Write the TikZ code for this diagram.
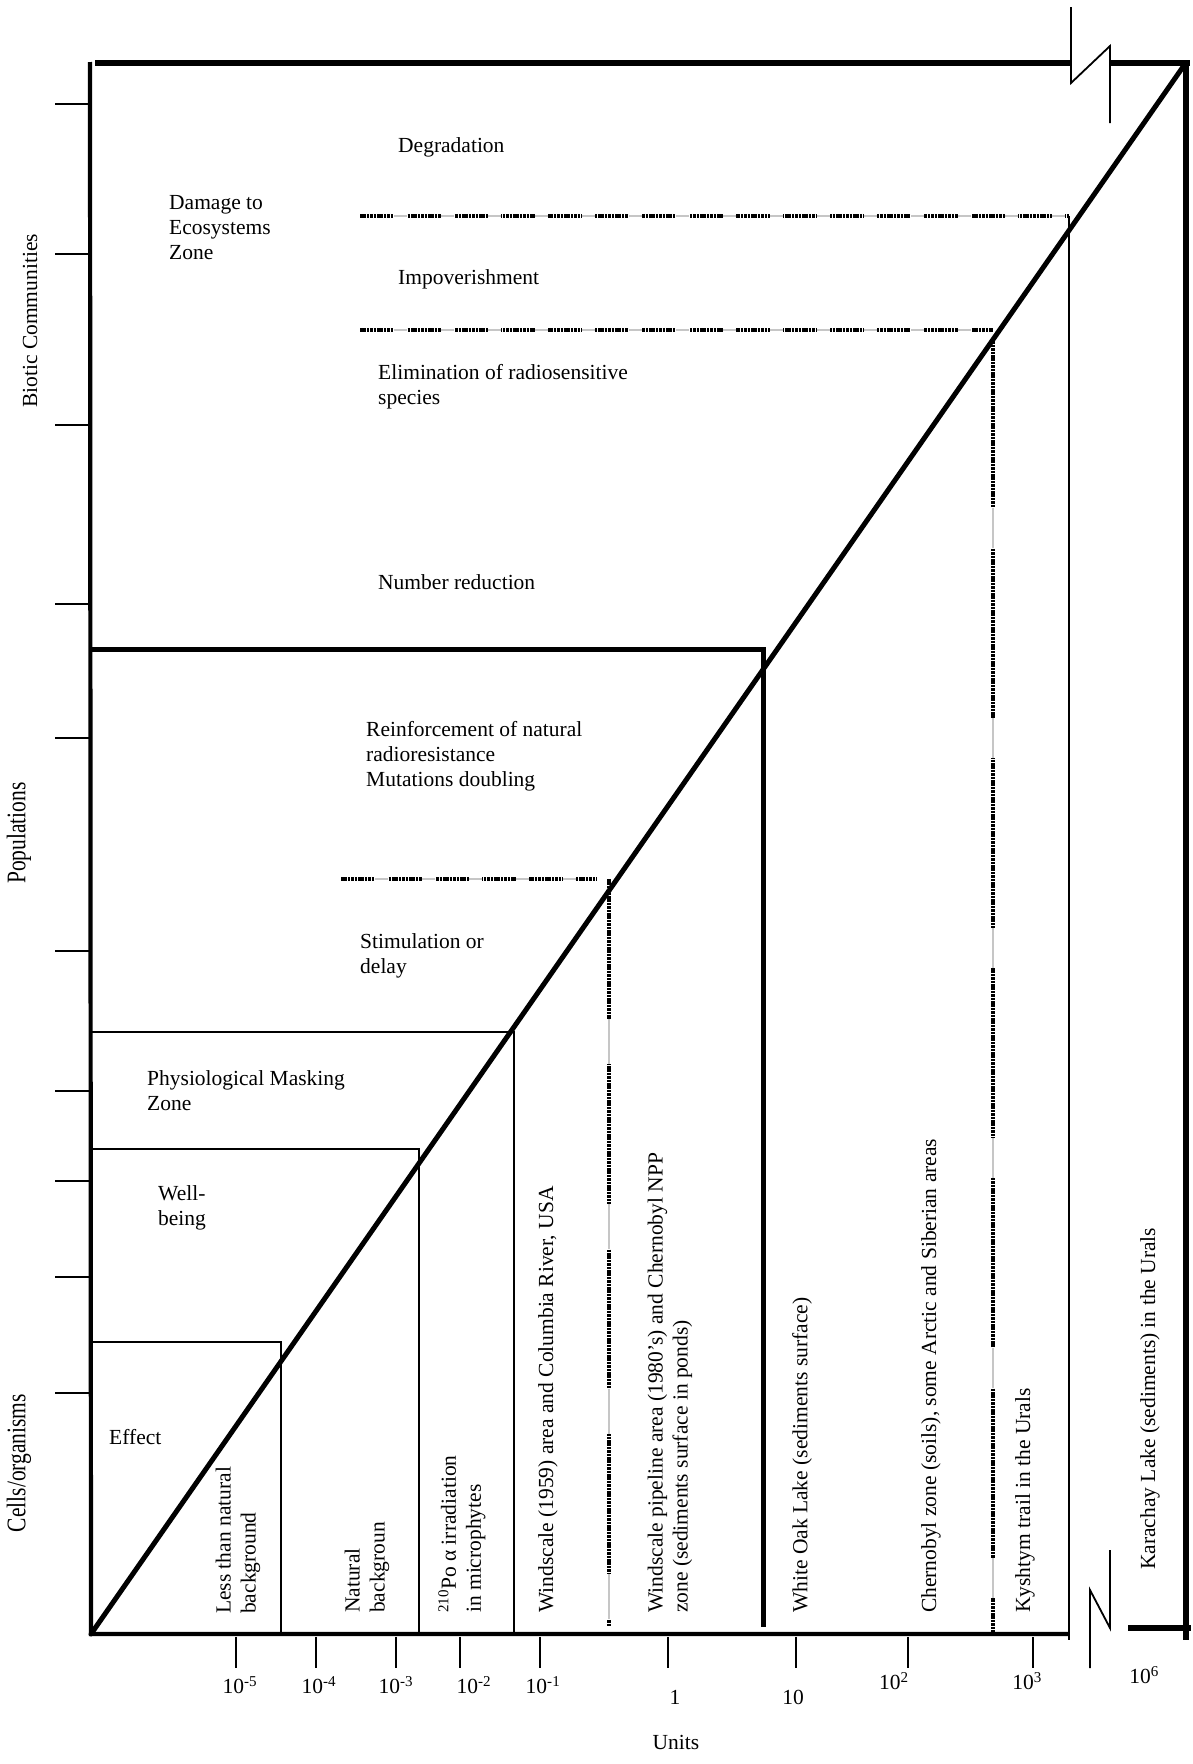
\documentclass[tikz,border=0pt]{standalone}
\usepackage{fontspec}
\setmainfont{Liberation Serif}
\begin{document}
\begin{tikzpicture}[x=1pt,y=-1pt,
  txt/.style={font=\fontsize{21.5}{25}\selectfont, inner sep=0pt, align=left},
  zone/.style={txt, anchor=west},
  vtxt/.style={txt, rotate=90, anchor=west},
  num/.style={txt, anchor=center},
  heavy/.style={line width=5.5, line cap=butt},
  axisline/.style={line width=4.2, line join=miter},
  popbox/.style={line width=5, line join=miter},
  diag/.style={line width=5, line cap=round},
  thinl/.style={line width=1.8},
  tickl/.style={line width=1.6},
  % fine black dots, interrupted at regular steps by a faint grey stretch
  dotline/.style 2 args={draw=black, line width=3.4, dash pattern=on 2.6 off 0.8,
    postaction={draw=white, line width=3.8, dash pattern=on #2 off #1, dash phase=#2},
    postaction={draw=gray!45, line width=1.6, dash pattern=on #2 off #1, dash phase=#2}},
]
\useasboundingbox (0,0) rectangle (1193,1764);

% ---- key points
\coordinate (O)  at (91,1634);
\coordinate (TR) at (1185,64);
\coordinate (LT) at (90,62);
\coordinate (BE) at (1069,1634);

% ---- outer frame
\draw[axisline] (LT) -- (O) -- (BE);
\draw[heavy] (95,63) -- (1071,63);
\draw[heavy] (1110,63) -- (1190,63);
\draw[heavy] (1186,60) -- (1186,1640);
\draw[heavy] (1128,1628) -- (1191,1628);

% ---- axis breaks
\draw[thinl] (1071,7) -- (1071,83) -- (1110,46) -- (1110,123);
\draw[thinl] (1090,1668) -- (1090,1590) -- (1110,1628) -- (1110,1550);

% ---- zone boxes
\draw[popbox] (90,649) -| (763,1627);
\draw[thinl] (90,1032) -| (514,1633);
\draw[thinl] (90,1149) -| (419,1633);
\draw[thinl] (90,1342) -| (281,1633);
\draw[thinl] (1069,216) -- (1069,1640);

% ---- dotted limits
\draw[dotline={34}{13}] (360,216) -- (1069,216);
\draw[dotline={34}{13}] (360,330) -- (993,330);
\draw[dotline={34}{13}] (341,879) -- (597,879);
\draw[dotline={170}{40}] (993,338) -- (993,1634);
\draw[dotline={140}{45}] (609,879) -- (609,1626);

% ---- dose line
\draw[diag] (O) -- (TR);

% ---- left ticks
\foreach \yy in {104,254,425,604,738,951,1091,1181,1277,1393}
  \draw[tickl] (55,\yy) -- (90,\yy);

% ---- bottom ticks
\foreach \xx in {236,316,396,460,540,668,796,908,1033}
  \draw[tickl] (\xx,1637) -- (\xx,1668);

% ---- bottom scale labels
\node[num] (t5) at (240,1685) {10\textsuperscript{-5}};
\node[num] (t4) at (319,1685) {10\textsuperscript{-4}};
\node[num] (t3) at (396,1685) {10\textsuperscript{-3}};
\node[num] (t2) at (474,1685) {10\textsuperscript{-2}};
\node[num] (t1) at (543,1685) {10\textsuperscript{-1}};
\node[num] (u0) at (675,1697) {1};
\node[num] (u1) at (793,1697) {10};
\node[num] (u2) at (894,1681) {10\textsuperscript{2}};
\node[num] (u3) at (1027,1681) {10\textsuperscript{3}};
\node[num] (u6) at (1144,1675) {10\textsuperscript{6}};
\node[num] (units) at (676,1742) {Units};

% ---- left axis titles
\node[txt, rotate=90, anchor=center] (biotic) at (30,321) {Biotic Communities};
\node[txt, rotate=90, anchor=center] (pops) at (19,833) {\scalebox{1}[1.25]{Populations}};
\node[txt, rotate=90, anchor=center] (cells) at (19,1463) {\scalebox{1}[1.25]{Cells/organisms}};

% ---- effect zones
\node[zone] (degr) at (398,147) {Degradation};
\node[zone] (damage) at (169,228) {Damage to\\Ecosystems\\Zone};
\node[zone] (impov) at (398,279) {Impoverishment};
\node[zone] (elim) at (378,387) {Elimination of radiosensitive\\species};
\node[zone] (numred) at (378,582) {Number reduction};
\node[zone] (reinf) at (366,756) {Reinforcement of natural\\radioresistance\\Mutations doubling};
\node[zone] (stim) at (360,956) {Stimulation or\\delay};
\node[zone] (phys) at (147,1091) {Physiological Masking\\Zone};
\node[zone] (well) at (158,1208) {Well-\\being};
\node[zone] (effect) at (109,1437) {Effect};

% ---- exposure situations
\node[vtxt] (lessnat) at (238,1614) {Less than natural\\background};
\node[vtxt] (natbg) at (367,1613) {Natural\\backgroun};
\node[vtxt] (po) at (462,1613) {\textsuperscript{210}Po α irradiation\\in microphytes};
\node[vtxt] (winds) at (548,1613) {Windscale (1959) area and Columbia River, USA};
\node[vtxt] (pipe) at (670,1613) {Windscale pipeline area (1980’s) and Chernobyl NPP\\zone (sediments surface in ponds)};
\node[vtxt] (oak) at (802,1613) {White Oak Lake (sediments surface)};
\node[vtxt] (chern) at (931,1613) {Chernobyl zone (soils), some Arctic and Siberian areas};
\node[vtxt] (kysh) at (1025,1613) {Kyshtym trail in the Urals};
\node[vtxt] (kara) at (1150,1570) {Karachay Lake (sediments) in the Urals};
\end{tikzpicture}
\end{document}
